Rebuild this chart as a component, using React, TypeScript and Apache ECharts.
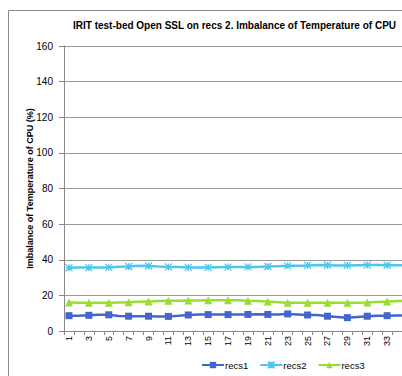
import React, { useEffect, useRef } from "react";
import * as echarts from "echarts";

const categories = Array.from({ length: 35 }, (_, i) => String(i + 1));
const recs1 = [8.6, 8.6, 8.8, 9.1, 9.1, 8.4, 8.3, 8.3, 8.3, 8.2, 8.2, 8.5, 9.0, 9.2, 9.2, 9.2, 9.2, 9.2, 9.3, 9.4, 9.3, 9.3, 9.6, 9.3, 9.0, 9.0, 8.3, 7.9, 7.5, 7.9, 8.3, 8.6, 8.6, 8.7, 8.8];
const recs2 = [35.5, 35.6, 35.6, 35.7, 35.7, 36.1, 36.2, 36.6, 36.5, 36.2, 36.0, 35.9, 35.7, 35.6, 35.7, 35.8, 35.9, 36.0, 36.0, 36.0, 36.2, 36.4, 36.6, 36.7, 36.8, 37.0, 36.9, 36.8, 36.8, 36.9, 37.0, 37.0, 36.9, 36.9, 36.8];
const recs3 = [16.0, 15.9, 15.8, 15.8, 15.8, 16.0, 16.2, 16.4, 16.6, 16.8, 17.0, 17.0, 17.1, 17.1, 17.2, 17.3, 17.3, 17.2, 17.0, 16.9, 16.5, 16.2, 15.9, 15.8, 15.8, 15.8, 15.8, 15.8, 15.8, 15.9, 16.0, 16.3, 16.5, 16.8, 17.0];

const FONT = "Liberation Sans";
const asterisk = "path://M0,0L10,10M10,0L0,10M5,0L5,10M0,5L10,5";

export default function App() {
  const ref = useRef<HTMLDivElement>(null);
  useEffect(() => {
    const chart = echarts.init(ref.current!, null, { renderer: "svg" });
    chart.setOption({
      animation: false,
      backgroundColor: "#fff",
      textStyle: { fontFamily: FONT },
      title: {
        text: "IRIT test-bed Open SSL on recs 2. Imbalance of Temperature of CPU",
        left: 73,
        top: 20,
        padding: 0,
        textStyle: { fontFamily: FONT, fontSize: 10, fontWeight: "bold", color: "#000" },
      },
      graphic: [
        {
          type: "rect",
          shape: { x: 8.5, y: 10.5, width: 500, height: 400 },
          style: { fill: "none", stroke: "#8a8a8a", lineWidth: 1 },
          silent: true,
        },
      ],
      legend: {
        left: 201,
        top: 360,
        padding: 0,
        itemWidth: 22,
        itemHeight: 8,
        itemGap: 11,
        textStyle: { fontFamily: FONT, fontSize: 9.5, color: "#000", padding: [0, 0, 0, -4] },
        data: ["recs1", "recs2", "recs3"],
      },
      grid: { left: 64, top: 46, bottom: 45, right: 0 },
      xAxis: {
        type: "category",
        data: categories,
        boundaryGap: true,
        axisLine: { lineStyle: { color: "#888" } },
        axisTick: { show: true, interval: 0, length: 4, lineStyle: { color: "#888" } },
        axisLabel: { rotate: 90, interval: 1, fontSize: 9, color: "#000", fontFamily: FONT, margin: 5 },
      },
      yAxis: {
        type: "value",
        min: 0,
        max: 160,
        interval: 20,
        name: "Imbalance of Temperature of CPU (%)",
        nameLocation: "middle",
        nameRotate: 90,
        nameGap: 30,
        nameMoveOverlap: false,
        nameTextStyle: { fontFamily: FONT, fontSize: 9, fontWeight: "bold", color: "#000" },
        axisLine: { show: true, lineStyle: { color: "#888" } },
        axisTick: { show: true, length: 5, lineStyle: { color: "#888" } },
        axisLabel: { fontSize: 10, color: "#000", fontFamily: FONT, margin: 11 },
        splitLine: { lineStyle: { color: "#999" } },
      },
      series: [
        {
          name: "recs1",
          type: "line",
          data: recs1,
          symbol: "rect",
          symbolSize: 7,
          color: "#4466CC",
          lineStyle: { width: 2.5, color: "#4466CC" },
          itemStyle: { color: "#4466CC" },
        },
        {
          name: "recs2",
          type: "line",
          data: recs2,
          symbol: asterisk,
          symbolSize: 7,
          color: "#4CC6F0",
          lineStyle: { width: 2.5, color: "#4CC6F0" },
          itemStyle: { color: "#4CC6F0", borderColor: "#4CC6F0", borderWidth: 1.2 },
        },
        {
          name: "recs3",
          type: "line",
          data: recs3,
          symbol: "triangle",
          symbolSize: 8,
          color: "#99DD33",
          lineStyle: { width: 2.5, color: "#99DD33" },
          itemStyle: { color: "#99DD33" },
        },
      ],
    });
    return () => chart.dispose();
  }, []);
  return (
    <div style={{ position: "fixed", left: 0, top: 0, width: 402, height: 376, overflow: "hidden" }}>
      <div ref={ref} style={{ width: 412, height: 376 }} />
    </div>
  );
}
